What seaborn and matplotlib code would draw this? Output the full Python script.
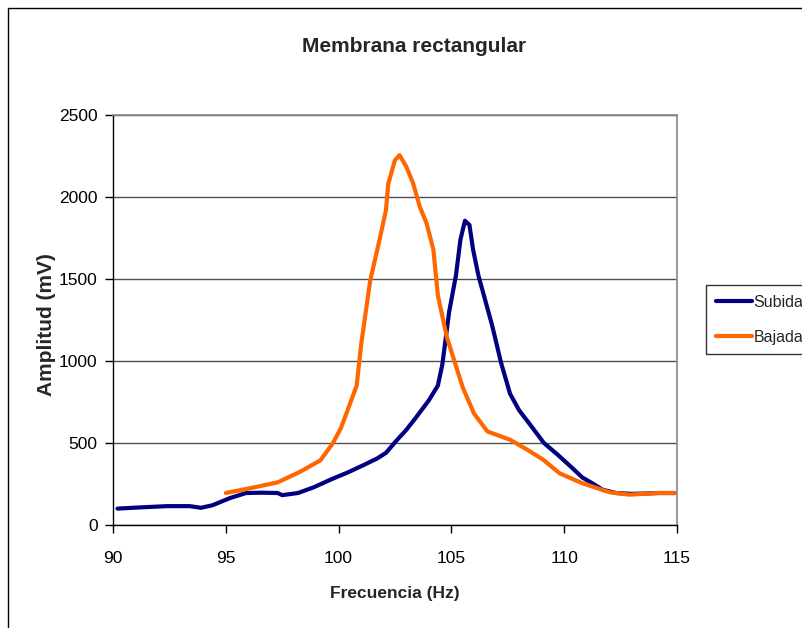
import matplotlib
matplotlib.use("Agg")
import matplotlib.pyplot as plt
from matplotlib.patches import Rectangle
import seaborn as sns
import pandas as pd

# Frequency sweep measurements of a rectangular membrane
subida_hz = [90.2, 91.3, 92.4, 93.4, 93.9, 94.4, 95.2, 95.9, 96.6, 97.3, 97.5, 98.2,
             98.9, 99.7, 100.4, 101.1, 101.7, 102.1, 102.6, 103.0, 103.4, 104.0,
             104.4, 104.6, 104.9, 105.2, 105.4, 105.6, 105.8, 105.96, 106.2, 106.5,
             106.8, 107.2, 107.6, 108.0, 108.5, 109.1, 109.7, 110.3, 110.8, 111.3,
             111.7, 112.3, 113.0, 113.6, 114.2, 114.9]
subida_mv = [100, 108, 115, 115, 105, 120, 165, 195, 197, 195, 182, 195,
             230, 280, 320, 365, 405, 440, 520, 580, 650, 760,
             850, 980, 1300, 1520, 1740, 1855, 1830, 1680, 1520, 1370,
             1220, 990, 800, 700, 610, 500, 430, 355, 290, 250,
             215, 195, 190, 192, 195, 195]

bajada_hz = [95.0, 96.1, 97.3, 98.3, 99.2, 99.75, 100.1, 100.4, 100.8, 101.0, 101.4,
             101.8, 102.1, 102.2, 102.5, 102.7, 103.0, 103.3, 103.6, 103.9, 104.2,
             104.4, 104.8, 105.5, 106.0, 106.6, 107.6, 108.35, 109.05, 109.8, 110.8,
             112.0, 112.9, 114.1, 114.9]
bajada_mv = [195, 225, 260, 325, 395, 500, 590, 700, 850, 1100, 1490,
             1730, 1920, 2080, 2225, 2255, 2185, 2085, 1940, 1840, 1680,
             1400, 1145, 840, 680, 570, 520, 460, 400, 315, 255,
             200, 185, 195, 195]

series_names = ["Subida", "Bajada"]
series_colors = ["#000080", "#FF6600"]
x_ticks = [90, 95, 100, 105, 110, 115]
y_ticks = [0, 500, 1000, 1500, 2000, 2500]

df = pd.concat([
    pd.DataFrame({"Frecuencia": subida_hz, "Amplitud": subida_mv, "Serie": series_names[0]}),
    pd.DataFrame({"Frecuencia": bajada_hz, "Amplitud": bajada_mv, "Serie": series_names[1]}),
], ignore_index=True)

sns.set_style("white")
plt.rcParams["font.family"] = ["Liberation Sans", "DejaVu Sans"]

fig = plt.figure(figsize=(8.02, 6.28), dpi=100)
ax = fig.add_axes([113 / 802, 1 - 525 / 628, 564 / 802, 410 / 628])

sns.lineplot(data=df, x="Frecuencia", y="Amplitud", hue="Serie", hue_order=series_names,
             palette=series_colors, sort=False, linewidth=3.0, ax=ax, legend=False,
             estimator=None)

ax.set_xlim(x_ticks[0], x_ticks[-1])
ax.set_ylim(y_ticks[0], y_ticks[-1])
ax.set_xticks(x_ticks)
ax.set_yticks(y_ticks)
ax.set_xticklabels([str(v) for v in x_ticks])
ax.set_yticklabels([str(v) for v in y_ticks])
ax.tick_params(axis="both", labelsize=12.5, colors="black", direction="out",
               length=6, width=1, left=True, bottom=True)
ax.tick_params(axis="x", pad=13)
ax.tick_params(axis="y", pad=5)

ax.yaxis.grid(True, color="#505050", linewidth=1)
ax.xaxis.grid(False)
ax.set_axisbelow(True)
for side in ["left", "bottom"]:
    ax.spines[side].set_color("black")
    ax.spines[side].set_linewidth(1)
for side in ["top", "right"]:
    ax.spines[side].set_color("#888888")
    ax.spines[side].set_linewidth(1.2)

ax.set_xlabel("Frecuencia (Hz)", fontsize=12.5, fontweight="bold", labelpad=14)
ax.set_ylabel("Amplitud (mV)", fontsize=15, fontweight="bold", va="center")
ax.yaxis.set_label_coords((47 - 113) / 564, (525 - 325) / 410)
fig.text(414 / 802, 1 - 46 / 628, "Membrana rectangular", ha="center", va="center",
         fontsize=15, fontweight="bold")

# chart area border
fig.patches.append(Rectangle((8 / 802, -0.2), 1.2, 1.2 - 8 / 628, transform=fig.transFigure,
                             fill=False, edgecolor="black", linewidth=1, clip_on=False))

handles = [plt.Line2D([], [], color=c, linewidth=3.0) for c in series_colors]
leg = fig.legend(handles, series_names, loc="upper left",
                 bbox_to_anchor=(706 / 802, 1 - 285 / 628), fontsize=11.5,
                 frameon=True, fancybox=False, handlelength=2.25, handletextpad=0.12,
                 borderpad=0.6, labelspacing=1.25, borderaxespad=0)
leg.get_frame().set_edgecolor("black")
leg.get_frame().set_linewidth(1)

fig.savefig("out.png", dpi=100)
